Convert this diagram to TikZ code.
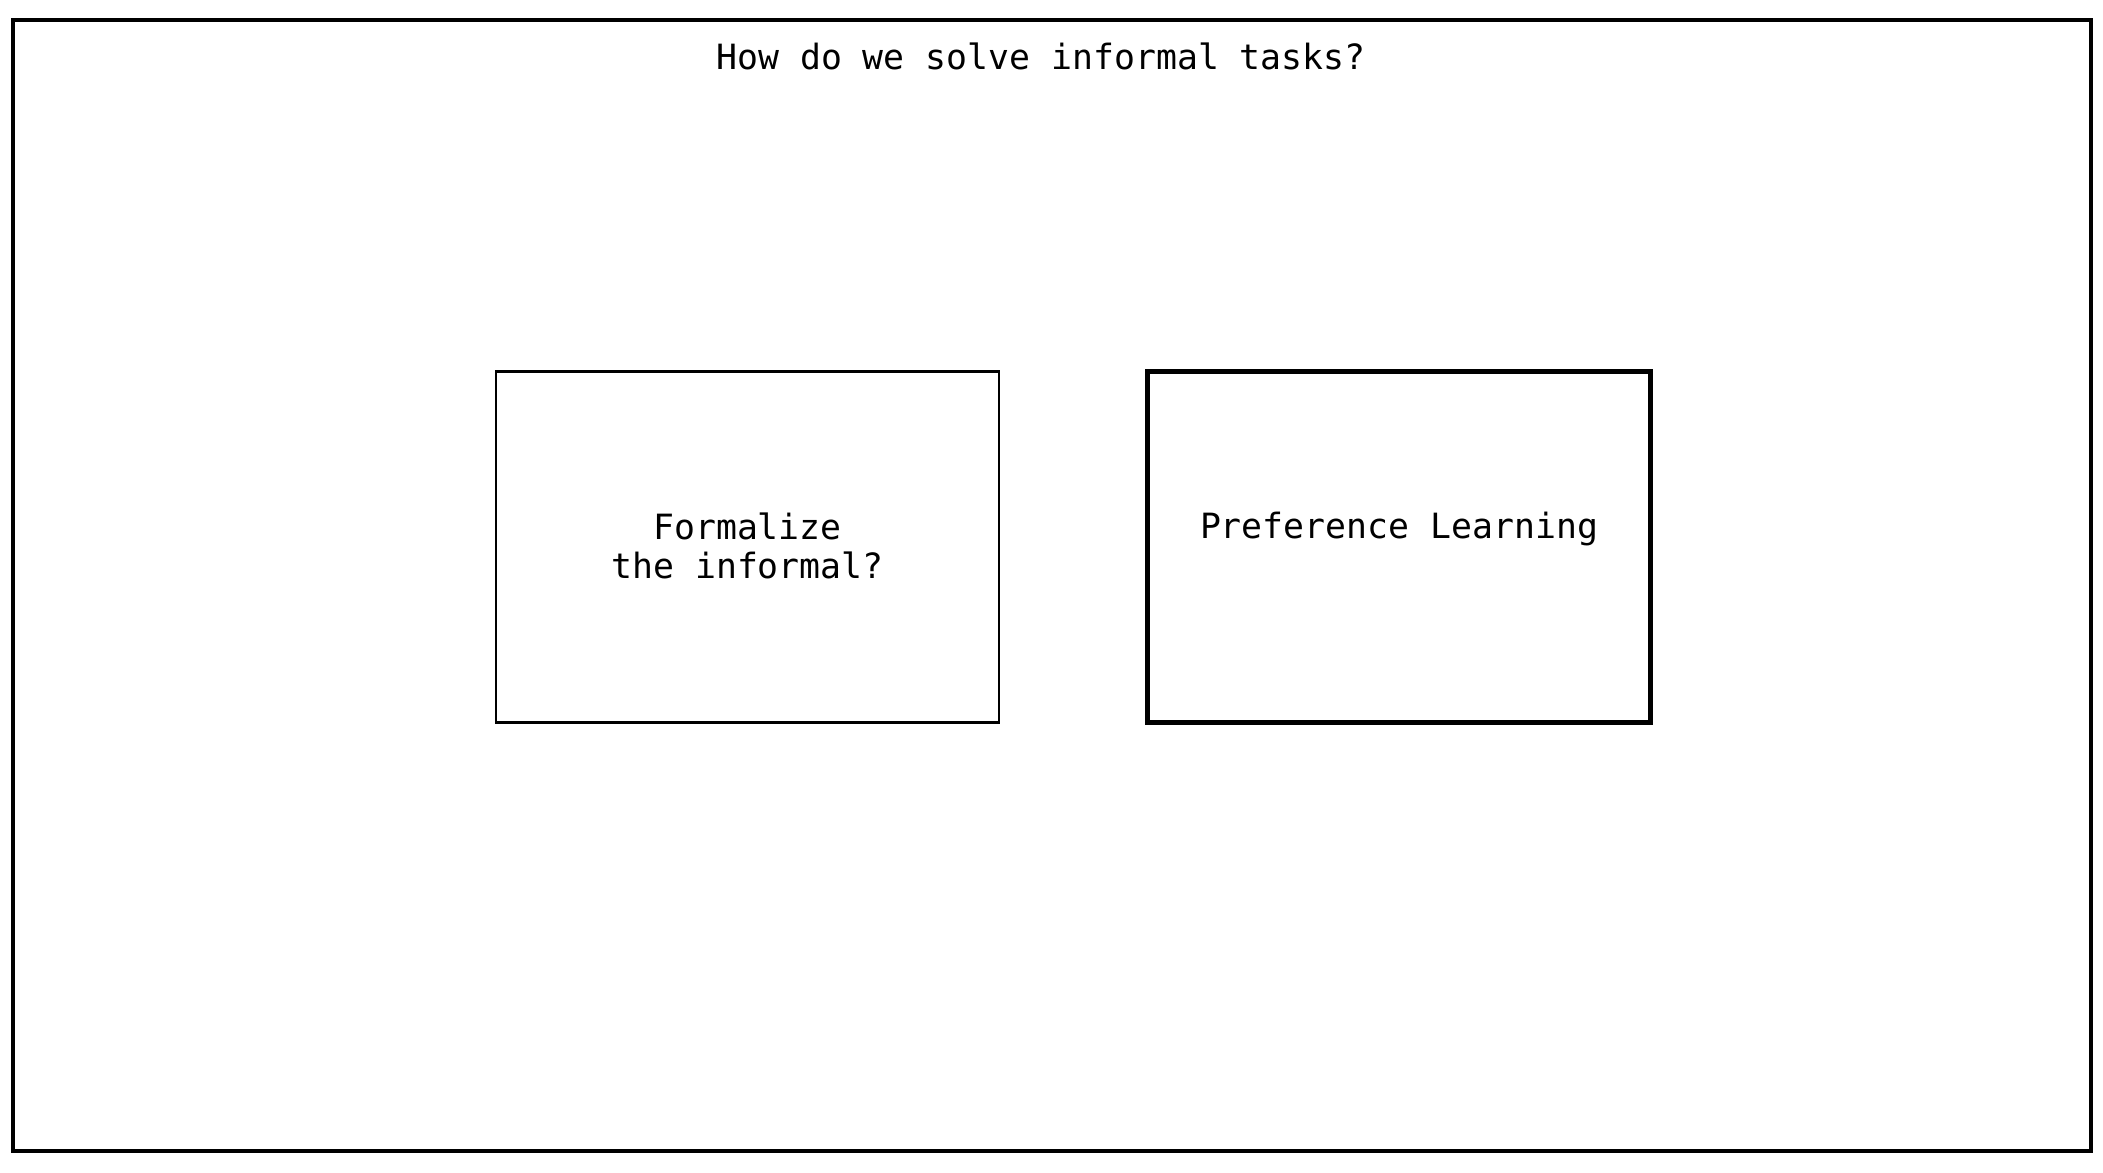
\documentclass[tikz,border=0pt]{standalone}
\usepackage{fontspec}
\setmonofont{DejaVu Sans Mono}
\usetikzlibrary{positioning}

\begin{document}
\begin{tikzpicture}
  [ frame1/.style={draw=black, line width=0.95pt},
    box1/.style={rectangle, draw=black, line width=0.75pt, minimum width=5.03cm, minimum height=3.51cm, inner sep=0pt, fill=white},
    box2/.style={rectangle, draw=black, line width=1.45pt, minimum width=5.03cm, minimum height=3.51cm, inner sep=0pt, fill=white},
    txt1/.style={font=\ttfamily\fontsize{9.9}{11.1}\selectfont, align=center, inner sep=0pt}
  ]
  
  \useasboundingbox (0,0) rectangle (21.03,11.73);
  \draw [frame1] (0.13,0.22) rectangle (20.91,11.53);
  
  \node[txt1] (title) at (10.41,11.165) {How do we solve informal tasks?};
  
  \node[box1] (formal) at (7.475,6.26) {};
  \node[box2] (pref) at (13.99,6.26) {};
  
  \node[txt1] (formaltext) at ([yshift=0.013cm]formal.center) {Formalize\\the informal?};
  \node[txt1] (preftext) at (13.99,6.44) {Preference Learning};
\end{tikzpicture}
\end{document}
